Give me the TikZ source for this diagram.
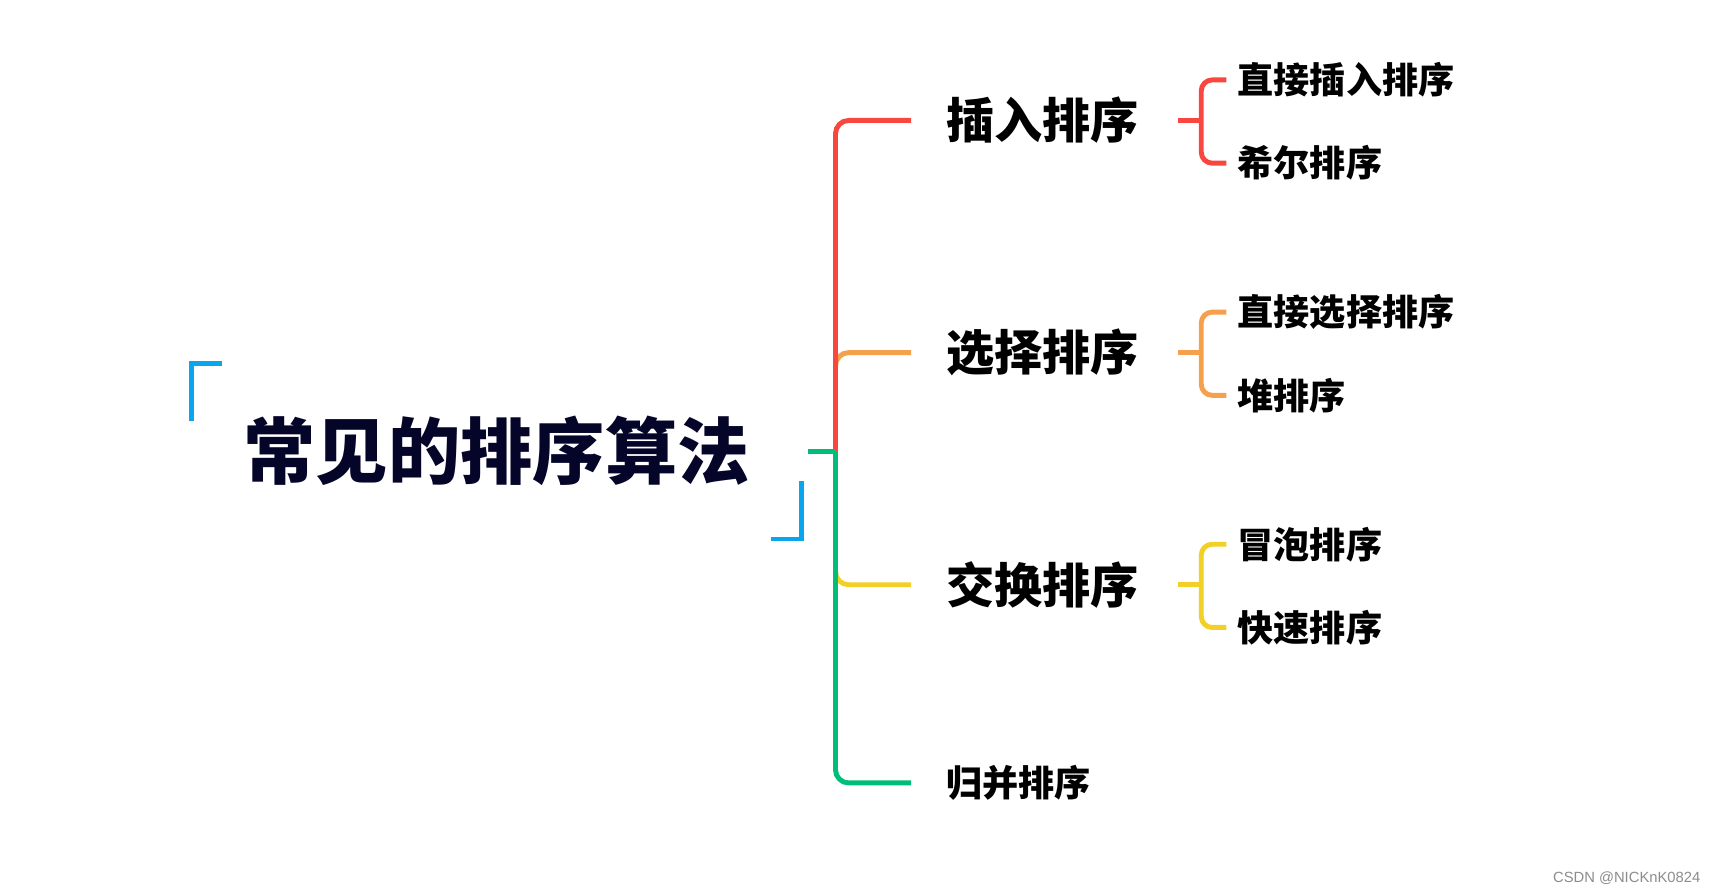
\documentclass[tikz,border=0pt]{standalone}
\usepackage{fontspec}
\setmainfont{Liberation Sans}
\newfontfamily\cjk{Noto Sans CJK SC}
\usetikzlibrary{calc}
\definecolor{cred}{HTML}{F7473F}
\definecolor{corange}{HTML}{F5A04D}
\definecolor{cyellow}{HTML}{F2D027}
\definecolor{cgreen}{HTML}{00BE7A}
\definecolor{cblue}{HTML}{0AA5EF}
\definecolor{ctitle}{HTML}{05052A}
\tikzset{
  x=1pt, y=-1pt,
  conn/.style={line width=4.5pt, rounded corners=12pt},
  sub/.style={line width=4.5pt, rounded corners=10pt},
  bracketline/.style={cblue, line width=4.5pt},
  rootnode/.style={inner sep=0pt, minimum width=557pt, minimum height=160pt, text=ctitle, font=\cjk\bfseries\fontsize{66}{70}\selectfont},
  catnode/.style={anchor=west, inner xsep=32pt, inner ysep=0pt, font=\cjk\bfseries\fontsize{44}{48}\selectfont},
  smallcat/.style={anchor=west, inner xsep=32pt, inner ysep=0pt, font=\cjk\bfseries\fontsize{33}{36}\selectfont},
  leafnode/.style={anchor=west, inner xsep=10pt, inner ysep=0pt, font=\cjk\bfseries\fontsize{33}{36}\selectfont},
}
\begin{document}
\begin{tikzpicture}
\useasboundingbox (0,0) rectangle (1568,817);
\node[rootnode] (root) at (453.5,412) {常见的排序算法};
\draw[bracketline] ($(root.north west)+(0,53)$) -- (root.north west) -- ($(root.north west)+(28,0)$);
\draw[bracketline] ($(root.south east)+(-28,0)$) -- (root.south east) -- ($(root.south east)+(0,-53)$);
\coordinate (hub) at (763,412);
\node[catnode] (c1) at (832,110) {插入排序};
\node[catnode] (c2) at (832,322) {选择排序};
\node[catnode] (c3) at (832,534) {交换排序};
\node[smallcat] (c4) at (832,715) {归并排序};
% connectors level 1
\draw[conn, corange] ($(hub|-c2.west)+(0,14)$) |- (c2.west);
\draw[conn, cyellow] ($(hub|-c3.west)+(0,-14)$) |- (c3.west);
\draw[conn, cred] (hub) |- (c1.west);
\draw[conn, cgreen] (hub) |- (c4.west);
\draw[line width=4.5pt, cgreen] ([xshift=6pt]root.east) -- (hub);
% leaves
\node[leafnode] (l1) at (1120,73) {直接插入排序};
\node[leafnode] (l2) at (1120,149) {希尔排序};
\node[leafnode] (l3) at (1120,285) {直接选择排序};
\node[leafnode] (l4) at (1120,361) {堆排序};
\node[leafnode] (l5) at (1120,497) {冒泡排序};
\node[leafnode] (l6) at (1120,573) {快速排序};
\coordinate (b1) at (1097,110);
\coordinate (b2) at (1097,322);
\coordinate (b3) at (1097,534);
\draw[sub, cred] ([xshift=3pt]c1.east) -- (b1);
\draw[sub, cred] (l1.west) -| (b1) |- (l2.west);
\draw[sub, corange] ([xshift=3pt]c2.east) -- (b2);
\draw[sub, corange] (l3.west) -| (b2) |- (l4.west);
\draw[sub, cyellow] ([xshift=3pt]c3.east) -- (b3);
\draw[sub, cyellow] (l5.west) -| (b3) |- (l6.west);
\node[anchor=east, inner sep=0pt, text=black!45, font=\fontsize{13.5}{15}\selectfont] (wm) at (1553,802) {CSDN @NICKnK0824};
\end{tikzpicture}
\end{document}
